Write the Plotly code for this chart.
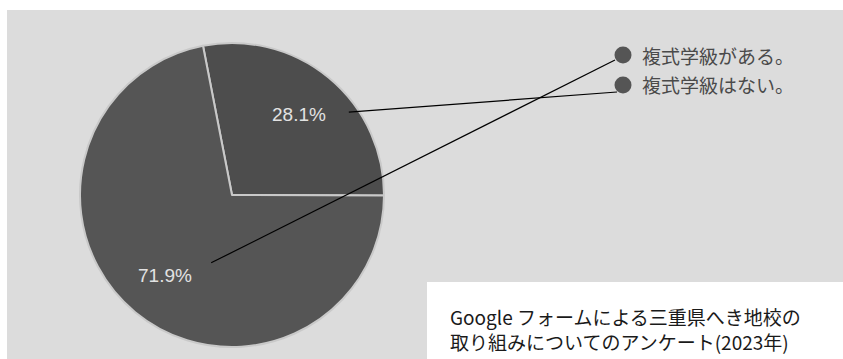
import math
import plotly.graph_objects as go

# Survey answers (share of respondents, %)
slice_labels = ["複式学級はない。", "複式学級がある。"]
slice_values = [28.1, 71.9]
legend_labels = ["複式学級がある。", "複式学級はない。"]
source_lines = ["Google フォームによる三重県へき地校の",
                "取り組みについてのアンケート(2023年)"]

W, H = 843, 359
CX, CY, R = 232, 195, 152          # pie centre and radius in pixels
ROTATION = -11                      # first slice starts slightly left of 12 o'clock
LABEL_R = 0.69                      # label distance as fraction of radius


def px(x):
    return x / W


def py(y):
    return 1 - y / H


fig = go.Figure()

fig.add_trace(go.Pie(
    labels=slice_labels,
    values=slice_values,
    sort=False,
    direction="clockwise",
    rotation=ROTATION,
    textinfo="none",
    hoverinfo="label+percent",
    showlegend=False,
    marker=dict(colors=["#4d4d4d", "#555555"],
                line=dict(color="#c9c9c9", width=2)),
    domain=dict(x=[px(CX - R), px(CX + R)], y=[py(CY + R), py(CY - R)]),
))

shapes = [
    # grey chart canvas
    dict(type="rect", xref="paper", yref="paper", layer="below",
         x0=px(7), x1=1, y0=0, y1=py(10),
         fillcolor="#dcdcdc", line=dict(width=0)),
    # white caption box
    dict(type="rect", xref="paper", yref="paper", layer="above",
         x0=px(427), x1=1.01, y0=-0.01, y1=py(282),
         fillcolor="#ffffff", line=dict(width=0)),
]
annotations = []

# percentage labels at each slice's mid-angle
total = sum(slice_values)
start = ROTATION
label_pos = []
for v in slice_values:
    span = v / total * 360
    mid = math.radians(start + span / 2)
    lx = CX + LABEL_R * R * math.sin(mid)
    ly = CY - LABEL_R * R * math.cos(mid)
    label_pos.append((lx, ly))
    annotations.append(dict(
        x=px(lx), y=py(ly), xref="paper", yref="paper", showarrow=False,
        xanchor="center", yanchor="middle",
        text=f"{v / total * 100:.1f}%",
        font=dict(family="Liberation Sans, Arial", size=19, color="#e2e2e2"),
    ))
    start += span

# legend: grey dots with labels
dot_pos = [(623, 55), (623, 85)]
for (dx, dy), name in zip(dot_pos, legend_labels):
    shapes.append(dict(type="circle", xref="paper", yref="paper",
                       x0=px(dx - 8.5), x1=px(dx + 8.5),
                       y0=py(dy + 8.5), y1=py(dy - 8.5),
                       fillcolor="#555555", line=dict(width=0)))
    annotations.append(dict(
        x=px(dx + 17), y=py(dy), xref="paper", yref="paper",
        xanchor="left", yanchor="middle", showarrow=False, text=name,
        font=dict(family="Noto Sans CJK JP", size=19, color="#4a4a4a"),
    ))

# connector lines from each percentage to its legend entry
connectors = [
    ((label_pos[0][0] + 50, label_pos[0][1] - 2), (dot_pos[1][0] - 6, dot_pos[1][1] + 7)),
    ((label_pos[1][0] + 46, label_pos[1][1] - 13), (dot_pos[0][0] - 8, dot_pos[0][1] + 5)),
]
for (x0, y0), (x1, y1) in connectors:
    shapes.append(dict(type="line", xref="paper", yref="paper", layer="above",
                       x0=px(x0), y0=py(y0), x1=px(x1), y1=py(y1),
                       line=dict(color="#000000", width=1.2)))

# two-line caption in the white box
annotations.append(dict(
    x=px(448), y=py(329), xref="paper", yref="paper",
    xanchor="left", yanchor="middle", align="left", showarrow=False,
    text="<br>".join(s.replace(" ", "&nbsp;") for s in source_lines),
    font=dict(family="Noto Sans CJK JP", size=19, color="#1a1a1a"),
))

fig.update_layout(
    width=W, height=H,
    margin=dict(l=0, r=0, t=0, b=0),
    paper_bgcolor="#ffffff",
    plot_bgcolor="#ffffff",
    shapes=shapes,
    annotations=annotations,
)

fig.write_html("out.html")
